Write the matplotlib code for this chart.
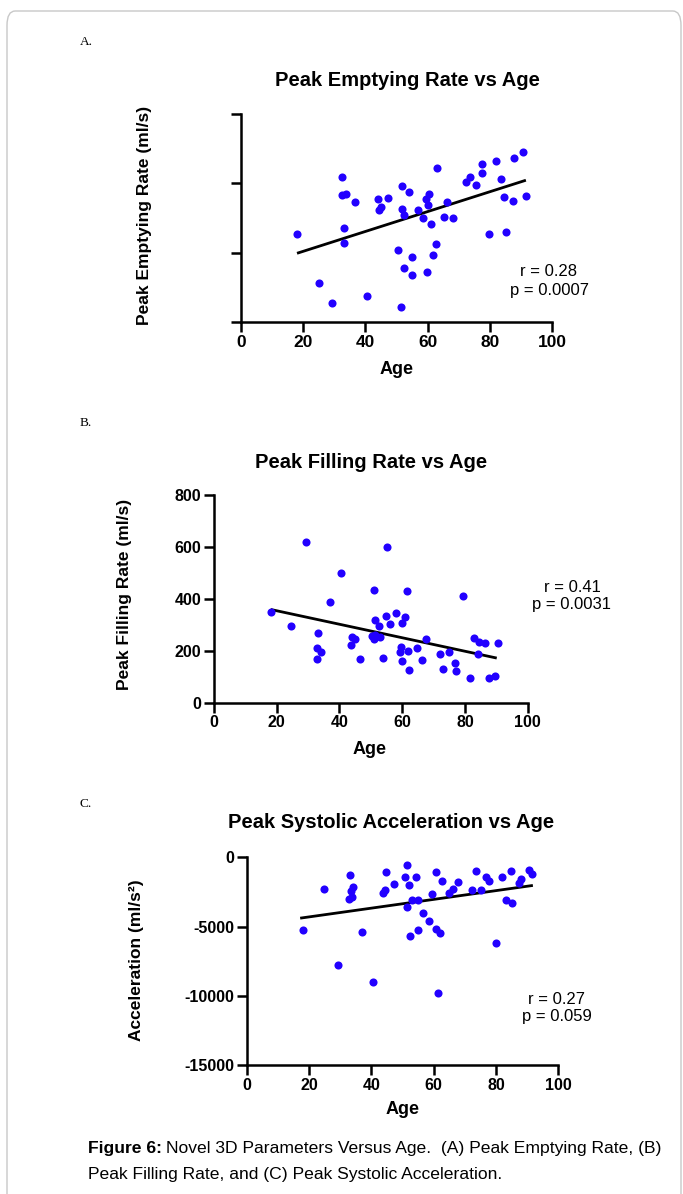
import matplotlib
matplotlib.use("Agg")
import matplotlib.pyplot as plt
from matplotlib.patches import FancyBboxPatch

plt.rcParams['font.family'] = ['Liberation Sans', 'DejaVu Sans']

W, H = 683, 1194

# Panel A: peak emptying rate (y axis unlabelled in the original)
age_a = [18.1, 25.0, 29.2, 32.4, 32.5, 33.7, 33.3, 33.2, 36.7, 40.4, 44.0, 44.3, 45.0, 47.3,
         50.6, 51.5, 51.8, 51.9, 52.3, 52.5, 54.1, 55.0, 55.1, 56.8, 58.5, 59.4, 59.9, 60.2,
         60.5, 61.0, 61.7, 62.7, 62.9, 65.2, 66.2, 68.1, 72.3, 73.5, 75.6, 77.3, 77.5, 79.8,
         81.9, 83.5, 84.5, 85.1, 87.4, 87.7, 90.5, 91.6]
per_a = [253, 112, 57, 418, 366, 371, 273, 228, 347, 75, 355, 324, 331, 359,
         209, 44, 393, 326, 156, 309, 375, 137, 189, 324, 301, 355, 144, 339,
         369, 283, 195, 225, 444, 303, 346, 299, 403, 418, 395, 429, 457, 254,
         465, 412, 360, 259, 350, 474, 490, 365]
fit_a_x = [18.5, 91.1]
fit_a_y = [200, 408]

# Panel B: peak filling rate (ml/s)
age_b = [18.3, 24.5, 29.4, 33.0, 32.8, 34.1, 32.8, 37.1, 40.5, 43.9, 44.8, 43.8, 46.5, 50.3,
         51.0, 51.3, 51.0, 51.4, 52.7, 52.9, 54.0, 54.8, 55.2, 56.1, 58.0, 59.4, 59.7, 59.9,
         59.8, 60.9, 61.4, 62.0, 62.2, 64.8, 66.4, 67.7, 71.9, 73.1, 74.8, 76.8, 77.0, 79.5,
         81.5, 83.0, 84.4, 84.3, 86.4, 87.6, 89.7, 90.6]
pfr_b = [350, 297, 620, 267, 212, 194, 167, 388, 499, 253, 244, 221, 169, 256,
         433, 318, 244, 259, 295, 254, 171, 334, 601, 303, 344, 196, 216, 159,
         306, 330, 429, 199, 127, 212, 163, 245, 187, 130, 195, 154, 123, 410,
         96, 250, 235, 189, 230, 96, 103, 230]
fit_b_x = [18.5, 89.7]
fit_b_y = [358, 173]

# Panel C: peak systolic acceleration (ml/s^2)
age_c = [18.2, 24.7, 29.3, 33.0, 33.6, 34.0, 32.7, 33.8, 37.0, 40.4, 43.9, 44.3, 44.8, 47.3,
         50.9, 51.6, 52.0, 51.6, 52.4, 53.0, 54.2, 55.1, 55.0, 56.7, 58.5, 59.6, 60.6, 60.6,
         61.9, 61.5, 62.6, 64.8, 66.1, 67.8, 72.4, 73.7, 75.2, 76.8, 77.9, 79.9, 82.0, 83.3,
         85.0, 84.7, 87.3, 88.1, 90.7, 91.4]
acc_c = [-5241, -2260, -7765, -1274, -2404, -2116, -3029, -2885, -5409, -8967, -2572, -2356,
         -1082, -1923, -1442, -529, -1971, -3606, -5649, -3053, -1418, -3101, -5265, -3991,
         -4568, -2620, -1058, -5169, -5481, -9808, -1707, -2548, -2308, -1755, -2356, -986,
         -2356, -1418, -1707, -6154, -1442, -3077, -3318, -962, -1851, -1539, -889, -1226]
fit_c_x = [17.6, 91.4]
fit_c_y = [-4375, -2043]

x_ticks = [0, 20, 40, 60, 80, 100]

fig = plt.figure(figsize=(W / 100, H / 100), dpi=100)

# light rounded frame around the figure (runs off the bottom)
frame = FancyBboxPatch((7 / W, -0.05), (681 - 7) / W, 1 - 11 / H + 0.05,
                       boxstyle="round,pad=0,rounding_size=0.012", transform=fig.transFigure,
                       fill=False, edgecolor='#c8c8c8', linewidth=1.0)
fig.patches.append(frame)


def px_axes(left, right, top, bottom):
    return fig.add_axes([left / W, 1 - bottom / H, (right - left) / W, (bottom - top) / H])


def style(ax, ylim, yticks, ylabels):
    ax.set_xlim(0, 100)
    ax.set_ylim(*ylim)
    ax.set_xticks(x_ticks)
    ax.set_yticks(yticks)
    ax.set_yticklabels(ylabels)
    for s in ['top', 'right']:
        ax.spines[s].set_visible(False)
    for s in ['left', 'bottom']:
        ax.spines[s].set_linewidth(1.8)
    ax.tick_params(direction='out', length=7, width=1.8, labelsize=11.5, pad=2)
    for lab in ax.get_xticklabels() + ax.get_yticklabels():
        lab.set_fontweight('bold')
    ax.set_facecolor('none')


dot = '#2200ff'

# ---- A ----
ax = px_axes(240.7, 552.3, 114, 322.3)
ax.scatter(age_a, per_a, s=34, color=dot, linewidths=0, zorder=3, clip_on=False)
ax.plot(fit_a_x, fit_a_y, color='black', lw=2)
style(ax, (0, 600), [0, 200, 400, 600], ['', '', '', ''])
ax.tick_params(axis='x', labelsize=12.5)

# ---- B ----
ax = px_axes(214, 527.7, 495, 702.7)
ax.scatter(age_b, pfr_b, s=34, color=dot, linewidths=0, zorder=3, clip_on=False)
ax.plot(fit_b_x, fit_b_y, color='black', lw=2)
style(ax, (0, 800), [0, 200, 400, 600, 800], ['0', '200', '400', '600', '800'])

# ---- C ----
ax = px_axes(246.7, 558.3, 857.3, 1065.3)
ax.scatter(age_c, acc_c, s=34, color=dot, linewidths=0, zorder=3, clip_on=False)
ax.plot(fit_c_x, fit_c_y, color='black', lw=2)
style(ax, (-15000, 0), [-15000, -10000, -5000, 0], ['-15000', '-10000', '-5000', '0'])


def ftext(x, y, s, **kw):
    return fig.text(x / W, 1 - y / H, s, **kw)


# panel letters
for (x, y, s) in [(80, 42, 'A.'), (80, 423, 'B.'), (80, 804, 'C.')]:
    ftext(x, y, s, family='Liberation Serif', fontsize=9.5, va='center')

# titles
ftext(407, 80, 'Peak Emptying Rate vs Age', fontsize=14.5, fontweight='bold', ha='center', va='center')
ftext(371, 462, 'Peak Filling Rate vs Age', fontsize=14.5, fontweight='bold', ha='center', va='center')
ftext(391, 822, 'Peak Systolic Acceleration vs Age', fontsize=14.5, fontweight='bold', ha='center', va='center')

# axis labels
ftext(397, 369, 'Age', fontsize=13, fontweight='bold', ha='center', va='center')
ftext(370, 749, 'Age', fontsize=13, fontweight='bold', ha='center', va='center')
ftext(403, 1110, 'Age', fontsize=13, fontweight='bold', ha='center', va='center')
ftext(145, 215, 'Peak Emptying Rate (ml/s)', fontsize=12.5, fontweight='bold', rotation=90,
      ha='center', va='center')
ftext(125, 594, 'Peak Filling Rate (ml/s)', fontsize=12.5, fontweight='bold', rotation=90,
      ha='center', va='center')
ftext(137, 960, 'Acceleration (ml/s²)', fontsize=12.5, fontweight='bold', rotation=90,
      ha='center', va='center')

# statistics
ftext(549, 281, 'r = 0.28\np = 0.0007', fontsize=12, ha='center', va='center', linespacing=1.25)
ftext(572, 596, 'r = 0.41\np = 0.0031', fontsize=12, ha='center', va='center', linespacing=1.25)
ftext(557, 1008, 'r = 0.27\np = 0.059', fontsize=12, ha='center', va='center', linespacing=1.25)

# caption: bold lead-in followed by regular text
t1 = ftext(88, 1148, 'Figure 6:', fontsize=12.6, fontweight='bold', va='center')
fig.canvas.draw()
bb = t1.get_window_extent()
fig.text((bb.x1 + 4) / W, 1 - 1148 / H,
         'Novel 3D Parameters Versus Age.  (A) Peak Emptying Rate, (B)', fontsize=12.6, va='center')
ftext(88, 1175, 'Peak Filling Rate, and (C) Peak Systolic Acceleration.', fontsize=12.6, va='center')

fig.savefig('out.png', dpi=100)
